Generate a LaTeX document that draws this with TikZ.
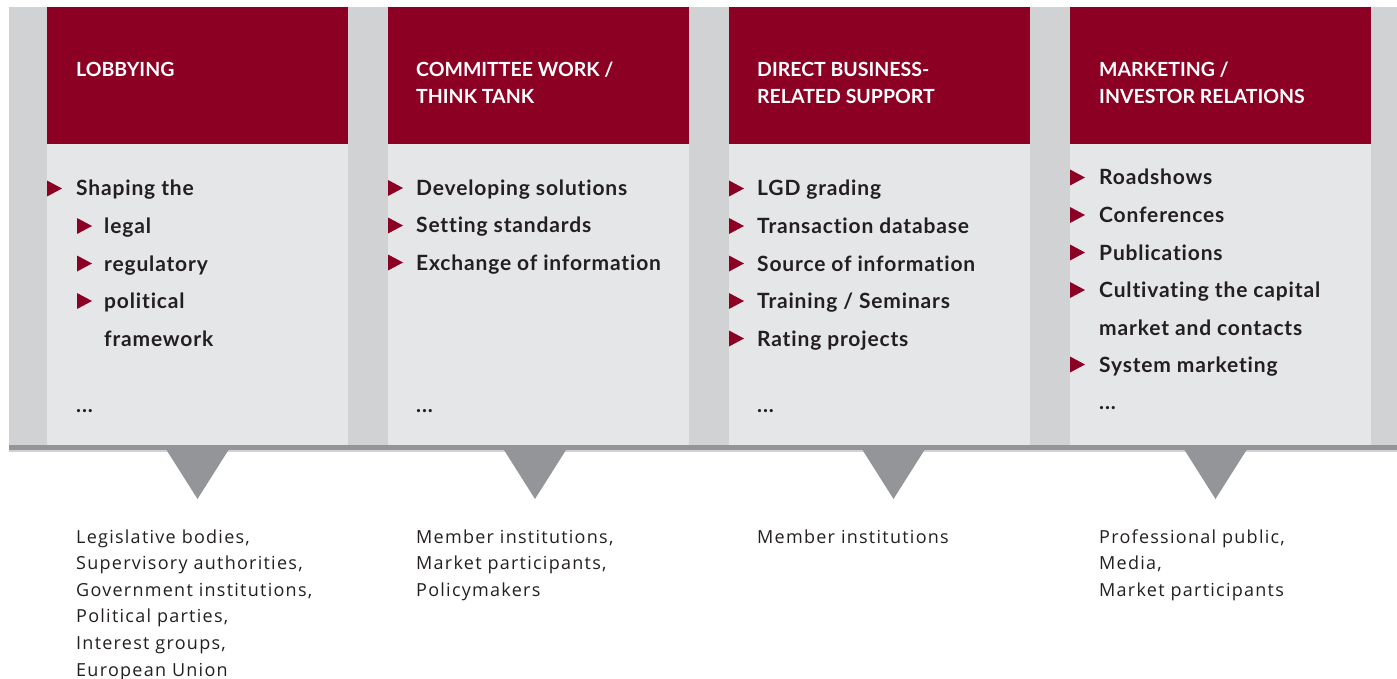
\documentclass[tikz,border=0pt]{standalone}
\usepackage{fontspec}
\setmainfont{Lato}
\newfontfamily\audfont[LetterSpace=7]{Open Sans}
\newfontfamily\itemfont[LetterSpace=4,Ligatures={NoCommon}]{Lato}
\definecolor{dkred}{RGB}{140,0,36}
\definecolor{outergray}{RGB}{209,210,212}
\definecolor{panelgray}{RGB}{229,230,232}
\definecolor{bargray}{RGB}{147,149,152}
\definecolor{txt}{RGB}{35,31,32}
\begin{document}
\begin{tikzpicture}[x=1pt,y=-1pt,
  head/.style={anchor=base west, inner sep=0pt, text=white, font=\fontsize{19.5}{26}\selectfont\bfseries},
  item/.style={anchor=base west, inner sep=0pt, text=txt, font=\itemfont\fontsize{21}{25}\selectfont\bfseries},
  aud/.style={anchor=base west, inner sep=0pt, text=txt, font=\audfont\fontsize{18}{26}\selectfont},
  bullet/.pic={\fill[dkred] (0,-8) -- (15,0) -- (0,8) -- cycle;},
  pointer/.style={fill=bargray}]
\useasboundingbox (0,0) rectangle (1397,679);
% background and columns
\fill[outergray] (9,7) rectangle (1397,445);
\foreach \L in {47,388,729,1070}{
  \fill[dkred] (\L,7) rectangle ({\L+301},144);
  \fill[panelgray] (\L,144) rectangle ({\L+301},445);
}
\fill[bargray] (9,445) rectangle (1397,450);
\fill[outergray] (9,450) rectangle (1397,451.5);
% pointers
\foreach \c in {197.5,535,893.5,1215.5}{
  \fill[bargray] ({\c-31},450) -- ({\c+31},450) -- (\c,499) -- cycle;
}
% headers
\node[head] (h1) at (76,77) {LOBBYING};
\node[head] (h2a) at (416,77) {COMMITTEE WORK /};
\node[head] (h2b) at (416,103.5) {THINK TANK};
\node[head] (h3a) at (757,77) {DIRECT BUSINESS-};
\node[head] (h3b) at (757,103.5) {RELATED SUPPORT};
\node[head] (h4a) at (1099,77) {MARKETING /};
\node[head] (h4b) at (1099,103.5) {INVESTOR RELATIONS};
% column 1
\pic at (47,188.5) {bullet};
\node[item] (c1a) at (76,196) {Shaping the};
\pic at (77,226) {bullet};
\node[item] (c1b) at (104,233.5) {legal};
\pic at (77,263.5) {bullet};
\node[item] (c1c) at (104,271) {regulatory};
\pic at (77,301) {bullet};
\node[item] (c1d) at (104,308.5) {political};
\node[item] (c1e) at (104,346) {framework};
\node[item] (c1f) at (76,412) {...};
% column 2
\pic at (388,188) {bullet};
\node[item] (c2a) at (416,195.5) {Developing solutions};
\pic at (388,225.5) {bullet};
\node[item] (c2b) at (416,233) {Setting standards};
\pic at (388,262.5) {bullet};
\node[item] (c2c) at (416,270) {Exchange of information};
\node[item] (c2d) at (416,412) {...};
% column 3
\pic at (729,188.5) {bullet};
\node[item] (c3a) at (757,196) {LGD grading};
\pic at (729,226) {bullet};
\node[item] (c3b) at (757,233.5) {Transaction database};
\pic at (729,263.5) {bullet};
\node[item] (c3c) at (757,271) {Source of information};
\pic at (729,301) {bullet};
\node[item] (c3d) at (757,308.5) {Training / Seminars};
\pic at (729,338.5) {bullet};
\node[item] (c3e) at (757,346) {Rating projects};
\node[item] (c3f) at (757,412) {...};
% column 4
\pic at (1070,177.5) {bullet};
\node[item] (c4a) at (1099,185) {Roadshows};
\pic at (1070,215) {bullet};
\node[item] (c4b) at (1099,222.5) {Conferences};
\pic at (1070,252.5) {bullet};
\node[item] (c4c) at (1099,260) {Publications};
\pic at (1070,290) {bullet};
\node[item] (c4d) at (1099,297.5) {Cultivating the capital};
\node[item] (c4e) at (1099,335) {market and contacts};
\pic at (1070,364.5) {bullet};
\node[item] (c4f) at (1099,372) {System marketing};
\node[item] (c4g) at (1099,409.5) {...};
% audiences
\node[aud] (a1a) at (76,543) {Legislative bodies,};
\node[aud] (a1b) at (76,569.6) {Supervisory authorities,};
\node[aud] (a1c) at (76,596.2) {Government institutions,};
\node[aud] (a1d) at (76,622.8) {Political parties,};
\node[aud] (a1e) at (76,649.4) {Interest groups,};
\node[aud] (a1f) at (76,676) {European Union};
\node[aud] (a2a) at (416,543) {Member institutions,};
\node[aud] (a2b) at (416,569.6) {Market participants,};
\node[aud] (a2c) at (416,596.2) {Policymakers};
\node[aud] (a3a) at (757,543) {Member institutions};
\node[aud] (a4a) at (1099,543) {Professional public,};
\node[aud] (a4b) at (1099,569.6) {Media,};
\node[aud] (a4c) at (1099,596.2) {Market participants};
\end{tikzpicture}
\end{document}
